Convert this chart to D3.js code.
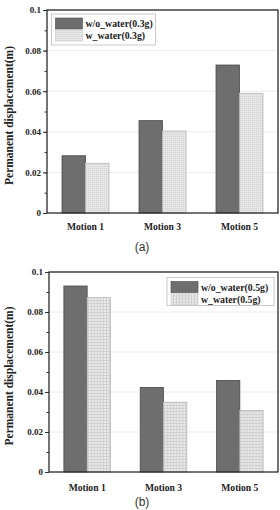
<!DOCTYPE html>
<html>
<head>
<meta charset="utf-8">
<script src="https://cdn.jsdelivr.net/npm/d3@7"></script>
<style>
  body { margin: 0; background: #fff; }
  svg { display: block; }
</style>
</head>
<body>
<div id="chart"></div>
<script>
// data
const motions = ["Motion 1", "Motion 3", "Motion 5"]
const y_ticks = [0, 0.02, 0.04, 0.06, 0.08, 0.1]

const series_a = ["w/o_water(0.3g)", "w_water(0.3g)"]
const dry_a = [0.0282, 0.0455, 0.0729]
const wet_a = [0.0245, 0.0404, 0.0590]

const series_b = ["w/o_water(0.5g)", "w_water(0.5g)"]
const dry_b = [0.0930, 0.0423, 0.0458]
const wet_b = [0.0872, 0.0349, 0.0308]

// layout
const width = 280
const height = 510
const serif = "'Liberation Serif', 'Times New Roman', serif"

const svg = d3.select("#chart")
    .append("svg")
        .attr("width", width)
        .attr("height", height);

const defs = svg.append("defs");

// fine dotted fill for panel (a)
const dots = defs.append("pattern")
    .attr("id", "dots")
    .attr("width", 2)
    .attr("height", 2)
    .attr("patternUnits", "userSpaceOnUse");
dots.append("rect").attr("width", 2).attr("height", 2).attr("fill", "#e6e6e6");
dots.append("rect").attr("width", 1).attr("height", 1).attr("fill", "#d2d2d2");

// grid fill for panel (b)
const grid = defs.append("pattern")
    .attr("id", "grid")
    .attr("width", 3)
    .attr("height", 3)
    .attr("patternUnits", "userSpaceOnUse");
grid.append("rect").attr("width", 3).attr("height", 3).attr("fill", "#eaeaea");
grid.append("path").attr("d", "M0,0.5H3M0.5,0V3").attr("stroke", "#d0d0d0").attr("stroke-width", 1);

function drawPanel(cfg) {
    const x = d3.scaleBand()
        .domain(motions)
        .range([cfg.left, cfg.right])
        .paddingInner(0.39)
        .paddingOuter(0.195);
    const x_sub = d3.scaleBand()
        .domain([0, 1])
        .range([0, x.bandwidth()]);
    const y = d3.scaleLinear()
        .domain([0, 0.1])
        .range([cfg.bottom, cfg.top]);

    const g = svg.append("g");

    // grid lines
    g.selectAll("line.grid")
        .data(y_ticks.slice(1))
        .join("line")
            .attr("x1", cfg.left)
            .attr("x2", cfg.right)
            .attr("y1", d => y(d))
            .attr("y2", d => y(d))
            .attr("stroke", "#ececec")
            .attr("stroke-width", 1);

    // bars
    const rows = motions.map((m, i) => ({ motion: m, values: [cfg.dry[i], cfg.wet[i]] }));
    const groups = g.selectAll("g.group")
        .data(rows)
        .join("g")
            .attr("transform", d => `translate(${x(d.motion)},0)`);
    groups.selectAll("rect")
        .data(d => d.values.map((v, k) => ({ k: k, v: v })))
        .join("rect")
            .attr("x", d => x_sub(d.k))
            .attr("y", d => y(d.v))
            .attr("width", x_sub.bandwidth())
            .attr("height", d => y(0) - y(d.v))
            .attr("fill", d => d.k == 0 ? "#6e6e6e" : `url(#${cfg.pattern})`)
            .attr("stroke", d => d.k == 0 ? "#4a4a4a" : "#b8b8b8")
            .attr("stroke-width", 0.8);

    // y axis with minor ticks
    g.append("g")
        .attr("transform", `translate(${cfg.left},0)`)
        .call(d3.axisLeft(y)
                .tickValues(d3.range(0, 0.1001, 0.01))
                .tickSize(2.5)
                .tickFormat(""))
        .call(a => a.select(".domain").remove());
    g.append("g")
        .attr("transform", `translate(${cfg.left},0)`)
        .call(d3.axisLeft(y)
                .tickValues(y_ticks)
                .tickSize(4)
                .tickPadding(2)
                .tickFormat(d3.format("~g")))
        .call(a => a.select(".domain").remove())
        .call(a => a.selectAll("text")
            .attr("font-family", serif)
            .attr("font-weight", "bold")
            .attr("font-size", 9)
            .attr("fill", "#222"));
    g.selectAll(".tick line").attr("stroke", "#333");

    // x axis labels
    g.append("g")
        .attr("transform", `translate(0,${cfg.bottom})`)
        .call(d3.axisBottom(x).tickSize(0).tickPadding(cfg.xpad))
        .call(a => a.select(".domain").remove())
        .call(a => a.selectAll("text")
            .attr("font-family", serif)
            .attr("font-weight", "bold")
            .attr("font-size", 9.6)
            .attr("fill", "#222"));

    // frame
    g.append("rect")
        .attr("x", cfg.left)
        .attr("y", cfg.top)
        .attr("width", cfg.right - cfg.left)
        .attr("height", cfg.bottom - cfg.top)
        .attr("fill", "none")
        .attr("stroke", "#2a2a2a")
        .attr("stroke-width", 1.3);

    // y label
    g.append("text")
        .attr("transform", `translate(9,${(cfg.top + cfg.bottom) / 2 + 4}) rotate(-90)`)
        .attr("text-anchor", "middle")
        .attr("dominant-baseline", "central")
        .attr("font-family", serif)
        .attr("font-weight", "bold")
        .attr("font-size", 11.5)
        .attr("fill", "#222")
        .text("Permanent displacement(m)");

    // legend
    const lg = g.append("g")
        .attr("transform", `translate(${cfg.legend.x},${cfg.legend.y})`);
    lg.append("rect")
        .attr("width", cfg.legend.w)
        .attr("height", cfg.legend.h)
        .attr("fill", "#fff")
        .attr("stroke", "#bbb")
        .attr("stroke-width", 0.8);
    cfg.series.forEach((s, k) => {
        lg.append("rect")
            .attr("x", 4)
            .attr("y", 4 + k * 12)
            .attr("width", 27)
            .attr("height", 11)
            .attr("fill", k == 0 ? "#6e6e6e" : `url(#${cfg.pattern})`)
            .attr("stroke", k == 0 ? "#4a4a4a" : "#c8c8c8")
            .attr("stroke-width", 0.6);
        lg.append("text")
            .attr("x", 34)
            .attr("y", 9.5 + k * 12)
            .attr("dominant-baseline", "central")
            .attr("font-family", serif)
            .attr("font-weight", "bold")
            .attr("font-size", 9.8)
            .attr("fill", "#222")
            .text(s);
    });

    // caption
    g.append("text")
        .attr("x", 142)
        .attr("y", cfg.caption)
        .attr("text-anchor", "middle")
        .attr("dominant-baseline", "central")
        .attr("font-family", "'Liberation Sans', Arial, sans-serif")
        .attr("font-size", 12)
        .attr("fill", "#333")
        .text(cfg.label);
}

drawPanel({
    left: 47, right: 278, top: 10, bottom: 213, xpad: 10,
    dry: dry_a, wet: wet_a, series: series_a, pattern: "dots",
    legend: { x: 51.5, y: 14, w: 104, h: 31 },
    caption: 247, label: "(a)"
});

drawPanel({
    left: 49, right: 278, top: 272, bottom: 472, xpad: 12.5,
    dry: dry_b, wet: wet_b, series: series_b, pattern: "grid",
    legend: { x: 167, y: 277.5, w: 107, h: 28 },
    caption: 502, label: "(b)"
});
</script>
</body>
</html>
